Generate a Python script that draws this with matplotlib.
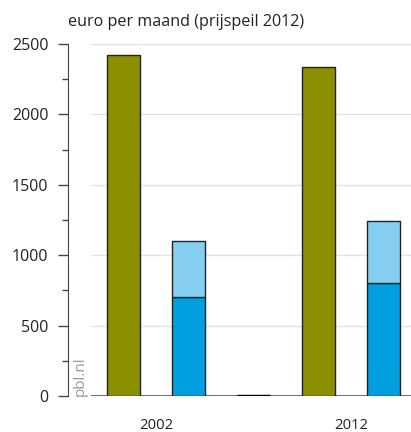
import numpy as np
import matplotlib
matplotlib.use('Agg')
import matplotlib.pyplot as plt
from matplotlib.ticker import MultipleLocator

plt.rcParams['font.family'] = ['Open Sans', 'DejaVu Sans']

years = ['2002', '2012']
olive = [2420, 2340]
blue_low = [700, 800]
blue_high = [400, 440]
separator = [0]

c_olive = '#8c9000'
c_blue = '#009fe0'
c_light = '#87cff0'
edge = '#222222'

fig = plt.figure(figsize=(4.11, 4.32), dpi=100)
ax = fig.add_axes([91 / 411, 1 - 396 / 432, 1 - 91 / 411, 352 / 432])

w = 0.5
pos_olive = np.array([0, 3])
pos_blue = np.array([1, 4])
pos_sep = np.array([2])

ax.bar(pos_olive, olive, w, color=c_olive, edgecolor=edge, linewidth=1, zorder=3)
ax.bar(pos_blue, blue_low, w, color=c_blue, edgecolor=edge, linewidth=1, zorder=3)
ax.bar(pos_blue, blue_high, w, bottom=blue_low, color=c_light, edgecolor=edge,
       linewidth=1, zorder=3)
ax.bar(pos_sep, separator, w, color='black', edgecolor='black', linewidth=2.5, zorder=3)

ax.set_xlim(-0.5, 4.42)
ax.set_ylim(0, 2500)

for y in range(500, 2501, 500):
    ax.axhline(y, color='#e3e3e3', linewidth=1, zorder=1)
ax.axhline(0, color='#555555', linewidth=1.2, zorder=2)

ax.yaxis.set_major_locator(MultipleLocator(500))
ax.yaxis.set_minor_locator(MultipleLocator(250))
ax.tick_params(axis='y', which='major', length=7.2, width=1, color='#444444',
               pad=7, labelsize=11.5, labelcolor='#222222')
ax.tick_params(axis='y', which='minor', length=4.3, width=1, color='#444444')

ax.set_xticks((pos_olive + pos_blue) / 2)
ax.set_xticklabels(years, fontsize=10.7, color='#222222')
ax.tick_params(axis='x', length=0, pad=16)

for s in ['top', 'right', 'bottom']:
    ax.spines[s].set_visible(False)
ax.spines['left'].set_position(('outward', 16.5))
ax.spines['left'].set_color('#444444')

fig.text(68 / 411, 1 - 22 / 432, 'euro per maand (prijspeil 2012)', fontsize=11.6,
         color='#222222', ha='left', va='center')
fig.text(80 / 411, 1 - 396 / 432, 'pbl.nl', fontsize=11, color='#999999',
         rotation=90, ha='center', va='bottom')

fig.savefig('out.png', dpi=100)
